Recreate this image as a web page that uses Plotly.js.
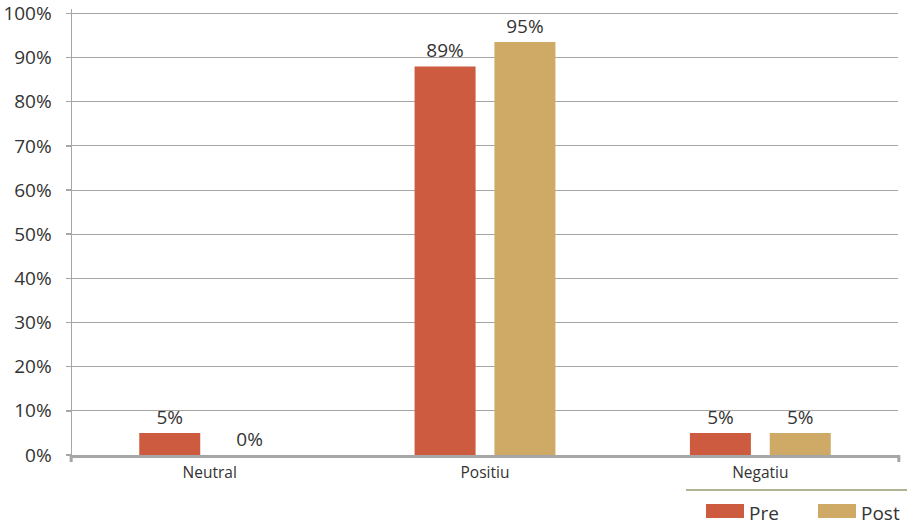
<!DOCTYPE html>
<html>
<head>
<meta charset="utf-8">
<script src="https://cdn.plot.ly/plotly-3.0.1.min.js"></script>
<style>html,body{margin:0;padding:0;background:#fff;}#chart{width:907px;height:525px;}</style>
</head>
<body>
<div id="chart"></div>
<script>
const categories = ['Neutral', 'Positiu', 'Negatiu'];
const seriesNames = ['Pre', 'Post'];
const preValues = [5, 88, 5];
const postValues = [0, 93.5, 5];
const preLabels = ['5%', '89%', '5%'];
const postLabels = ['0%', '95%', '5%'];
const yTickValues = [0, 10, 20, 30, 40, 50, 60, 70, 80, 90, 100];
const yTickLabels = ['0%', '10%', '20%', '30%', '40%', '50%', '60%', '70%', '80%', '90%', '100%'];

const PRE_COLOR = '#CD5B3F';
const POST_COLOR = '#CFA966';
const FONT = 'Open Sans, sans-serif';
const TEXT_COLOR = '#333';

const traces = [
  {
    type: 'bar', name: seriesNames[0], x: categories, y: preValues,
    text: preLabels, textposition: 'outside', cliponaxis: false,
    textfont: {family: FONT, size: 19, color: TEXT_COLOR},
    marker: {color: PRE_COLOR}, showlegend: false
  },
  {
    type: 'bar', name: seriesNames[1], x: categories, y: postValues,
    text: postLabels, textposition: 'outside', cliponaxis: false,
    textfont: {family: FONT, size: 19, color: TEXT_COLOR},
    marker: {color: POST_COLOR}, showlegend: false
  }
];

// plot area: bottom at 455 px, height 446 px
const PLOT_H = 446;
const py = p => (455 - p) / PLOT_H;   // pixel row -> paper y
const px = p => (p - 72) / 826;        // pixel col -> paper x

// Legend drawn as swatches + text (wide rectangular swatches as in the reference)
const legendItems = [
  {name: seriesNames[0], color: PRE_COLOR, x0: px(706), x1: px(744)},
  {name: seriesNames[1], color: POST_COLOR, x0: px(818), x1: px(856)}
];
const legendShapes = legendItems.map(it => ({
  type: 'rect', xref: 'paper', yref: 'paper', x0: it.x0, x1: it.x1, y0: py(504), y1: py(518),
  fillcolor: it.color, line: {width: 0}
}));
const legendAnnotations = legendItems.map(it => ({
  xref: 'paper', yref: 'paper', x: it.x1 + 0.004, y: py(513), xanchor: 'left', yanchor: 'middle',
  text: it.name, showarrow: false, font: {family: FONT, size: 19, color: TEXT_COLOR}
}));

const layout = {
  width: 907, height: 525,
  margin: {l: 72, r: 9, t: 9, b: 70, autoexpand: false},
  paper_bgcolor: '#fff', plot_bgcolor: '#fff',
  font: {family: FONT, color: TEXT_COLOR},
  showlegend: false,
  barmode: 'group', bargap: 0.42, bargroupgap: 0.236,
  xaxis: {
    type: 'category', categoryorder: 'array', categoryarray: categories,
    showgrid: false, showline: true, linecolor: '#a6a6a6', linewidth: 3,
    ticks: '', tickfont: {family: FONT, size: 15.5, color: TEXT_COLOR},
    ticklabelstandoff: 1, zeroline: false, fixedrange: true, automargin: false
  },
  yaxis: {
    range: [0, 101], tickvals: yTickValues, ticktext: yTickLabels,
    showgrid: true, gridcolor: '#a6a6a6', gridwidth: 1,
    showline: true, linecolor: '#a6a6a6', linewidth: 1.5,
    ticks: 'outside', ticklen: 5, tickcolor: '#a6a6a6', tickwidth: 1.5,
    tickfont: {family: FONT, size: 19, color: TEXT_COLOR},
    ticklabelstandoff: 10, ticklabeloverflow: 'allow',
    zeroline: false, fixedrange: true, automargin: false
  },
  shapes: [
    {type: 'line', xref: 'paper', yref: 'paper', x0: -0.001, x1: -0.001, y0: 0, y1: py(462),
     line: {color: '#a6a6a6', width: 3}},
    {type: 'line', xref: 'paper', yref: 'paper', x0: 1.001, x1: 1.001, y0: 0, y1: py(462),
     line: {color: '#a6a6a6', width: 3}},
    {type: 'line', xref: 'paper', yref: 'paper', x0: px(686), x1: 1.02, y0: py(490), y1: py(490),
     line: {color: '#5b6b2a', width: 1.2}}
  ].concat(legendShapes),
  annotations: legendAnnotations
};

Plotly.newPlot('chart', traces, layout, {displayModeBar: false, staticPlot: true});
</script>
</body>
</html>
